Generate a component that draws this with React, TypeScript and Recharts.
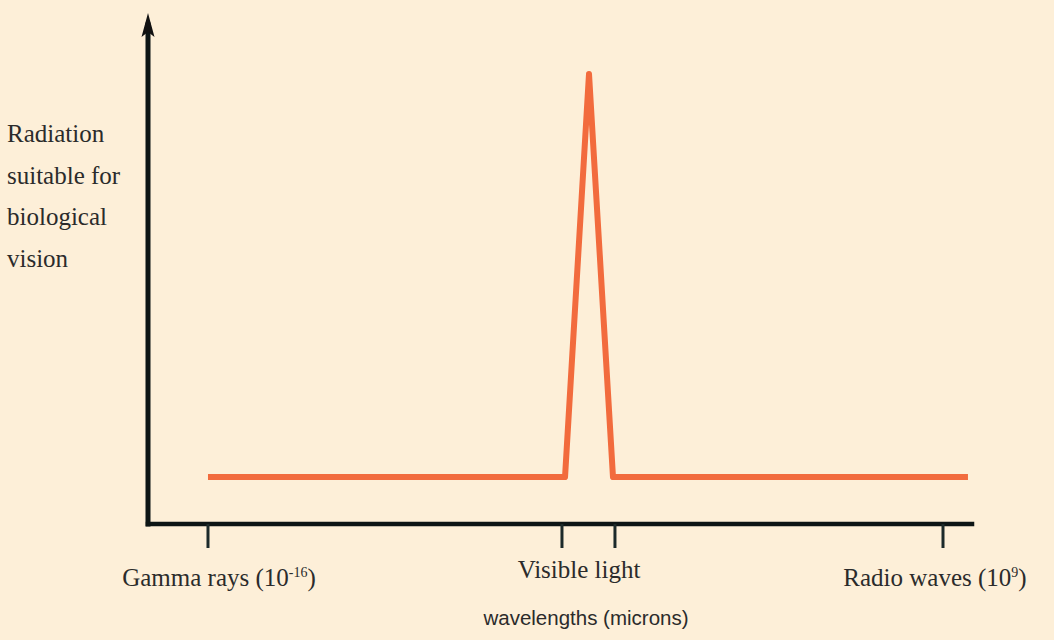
import React from "react";
import { LineChart, Line, XAxis, YAxis } from "recharts";

// wavelength positions (relative scale 0-100 along the spectrum axis)
const wavelengthPos = [7.28, 50.61, 53.52, 56.43, 99.51];
// suitability for biological vision (relative 0-100)
const suitability = [9.42, 9.42, 90.18, 9.42, 9.42];

// tick marks on the wavelength axis
const tickMarks = [7.28, 50.24, 56.67, 96.48];

// category labels under the axis
const labelPos = [8.62, 52.31, 95.51];
const labelText = ["Gamma rays (10", "Visible light", "Radio waves (10"];
const labelSup = ["-16", "", "9"];
const labelClose = [")", "", ")"];

const yTitleLines = ["Radiation", "suitable for", "biological", "vision"];
const xTitle = "wavelengths (microns)";

const data = wavelengthPos.map((x, i) => ({ x, y: suitability[i] }));

const BG = "#FDEFD8";
const TEXT = "#2b2b2b";
const SERIF = "'Liberation Serif', 'Times New Roman', serif";

const EmptyTick = () => <g />;

const LabelTick = (props: any) => {
  const { x, y, index } = props;
  const isMid = labelSup[index] === "";
  const baseline = y + (isMid ? 6 : 14);
  return (
    <text
      x={x}
      y={baseline}
      textAnchor="middle"
      fontFamily={SERIF}
      fontSize={25}
      fill={TEXT}
    >
      <tspan>{labelText[index]}</tspan>
      {labelSup[index] && (
        <tspan fontSize={14} dy={-9}>
          {labelSup[index]}
        </tspan>
      )}
      {labelClose[index] && <tspan dy={9}>{labelClose[index]}</tspan>}
    </text>
  );
};

const YTitle = () => (
  <text fontFamily={SERIF} fontSize={25} fill={TEXT}>
    {yTitleLines.map((l, i) => (
      <tspan key={i} x={7} y={142 + i * 41.5}>
        {l}
      </tspan>
    ))}
  </text>
);

const XTitle = () => (
  <text
    x={586}
    y={625}
    textAnchor="middle"
    fontFamily="'Liberation Sans', Arial, sans-serif"
    fontSize={20.5}
    fill={TEXT}
  >
    {xTitle}
  </text>
);

export default function App() {
  return (
    <div style={{ width: 1054, height: 640, background: BG }}>
      <style>{`body{margin:0}`}</style>
      <svg width={0} height={0} style={{ position: "absolute" }}>
        <defs>
          <marker
            id="arrowUp"
            markerUnits="userSpaceOnUse"
            markerWidth={30}
            markerHeight={20}
            refX={12}
            refY={8}
            orient="auto-start-reverse"
          >
            <path d="M0,1.5 L24,8 L0,14.5 L5,8 Z" fill="#111" />
          </marker>
        </defs>
      </svg>
      <LineChart
        width={1054}
        height={640}
        data={data}
        margin={{ top: 25, right: 82, left: 128, bottom: 0 }}
        style={{ background: BG }}
      >
        <XAxis
          dataKey="x"
          type="number"
          domain={[0, 100]}
          ticks={tickMarks}
          interval={0}
          height={40}
          tick={<EmptyTick />}
          tickSize={24}
          tickLine={{ stroke: "#1c2a2a", strokeWidth: 3 }}
          axisLine={{ stroke: "#0d1515", strokeWidth: 4.5, strokeLinecap: "square" }}
        />
        <XAxis
          xAxisId="labels"
          dataKey="x"
          type="number"
          domain={[0, 100]}
          ticks={labelPos}
          interval={0}
          height={76}
          axisLine={false}
          tickLine={false}
          tick={<LabelTick />}
          label={{ content: () => <XTitle /> }}
        />
        <YAxis
          type="number"
          domain={[0, 100]}
          width={20}
          tick={false}
          tickLine={false}
          axisLine={{
            stroke: "#0d1515",
            strokeWidth: 5,
            strokeLinecap: "square",
            markerStart: "url(#arrowUp)",
          }}
          label={{ content: () => <YTitle /> }}
        />
        <Line
          type="linear"
          dataKey="y"
          stroke="#F26B3D"
          strokeWidth={6}
          strokeLinejoin="round"
          dot={false}
          activeDot={false}
          isAnimationActive={false}
        />
      </LineChart>
    </div>
  );
}
